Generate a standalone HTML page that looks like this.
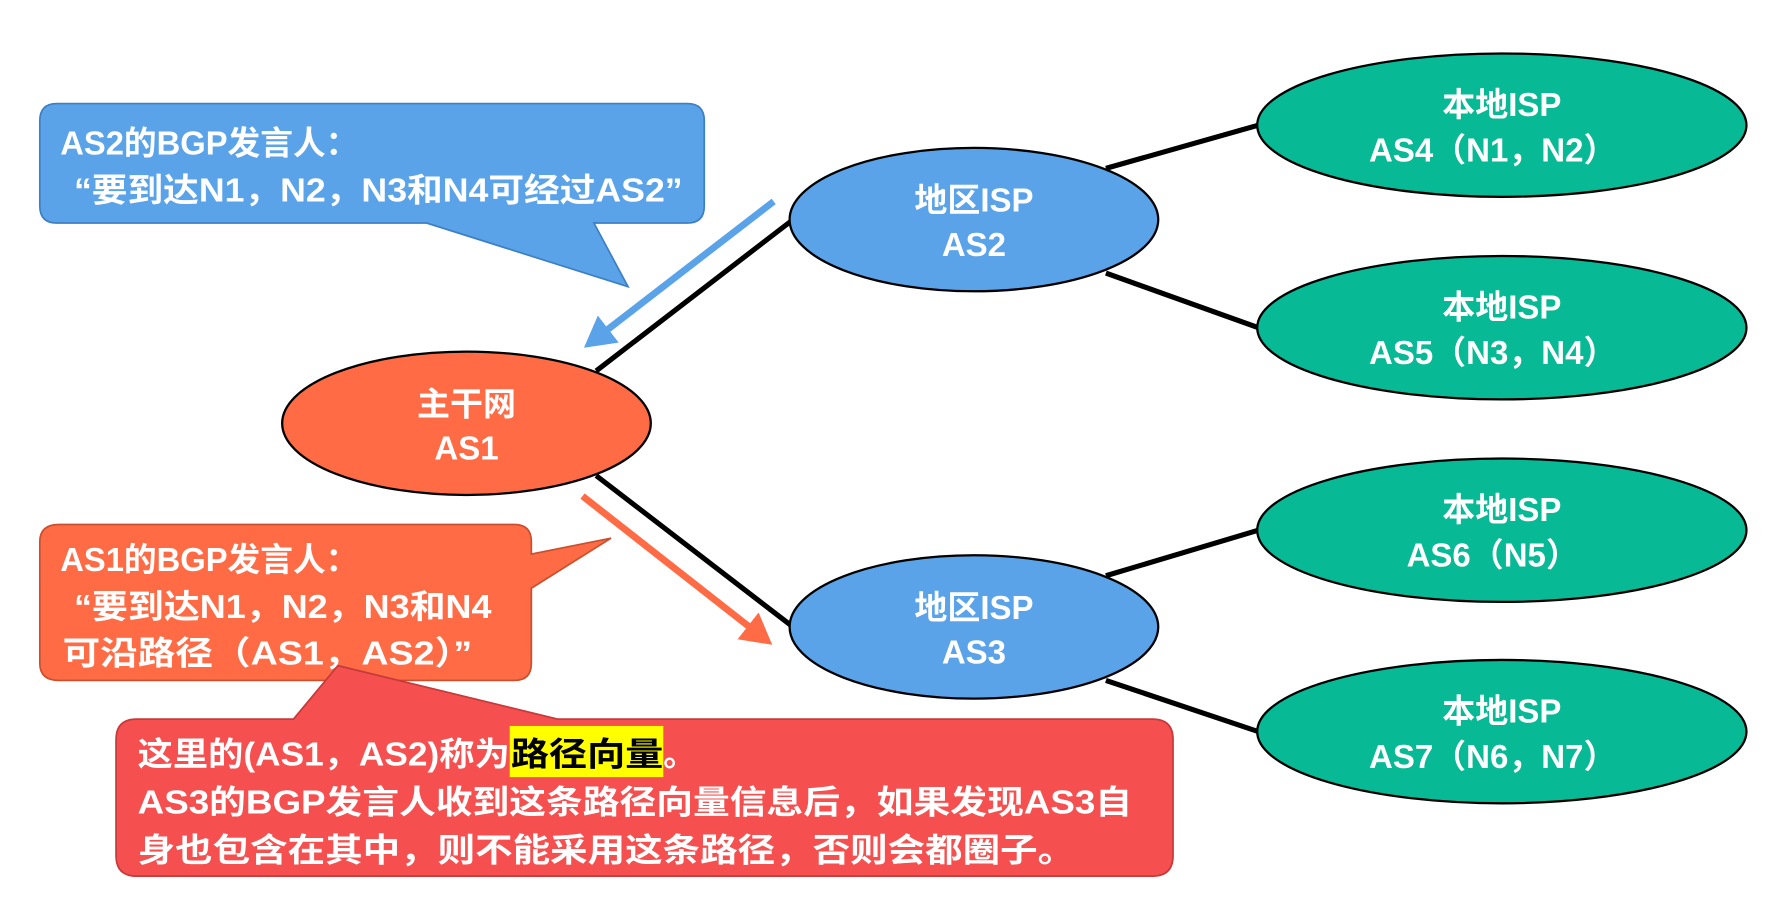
<!DOCTYPE html>
<html><head><meta charset="utf-8"><style>
html,body{margin:0;padding:0;background:#fff;}
svg{display:block;}
text{font-family:"Liberation Sans","Noto Sans CJK SC",sans-serif;font-weight:bold;fill:#fff;}
</style></head><body>
<svg width="1784" height="904" viewBox="0 0 1568 794.5" preserveAspectRatio="none" xmlns="http://www.w3.org/2000/svg">
<defs>
<marker id="ab" markerWidth="5" markerHeight="5" refX="3.5" refY="2.5" orient="auto" markerUnits="strokeWidth"><path d="M0,0 L4.5,2.5 L0,5 Z" fill="#5aa3e8"/></marker>
<marker id="ao" markerWidth="5" markerHeight="5" refX="3.5" refY="2.5" orient="auto" markerUnits="strokeWidth"><path d="M0,0 L4.5,2.5 L0,5 Z" fill="#ff6b45"/></marker>
</defs>
<g stroke="#000" stroke-width="4.5">
<line x1="524" y1="326" x2="697" y2="193"/>
<line x1="524" y1="418" x2="697" y2="551"/>
<line x1="972" y1="148" x2="1106" y2="110"/>
<line x1="972" y1="240" x2="1106" y2="288"/>
<line x1="972" y1="506" x2="1106" y2="466"/>
<line x1="972" y1="598" x2="1106" y2="643"/>
</g>
<line x1="680" y1="177" x2="518" y2="302" stroke="#5aa3e8" stroke-width="6" marker-end="url(#ab)"/>
<line x1="512" y1="436" x2="674" y2="563" stroke="#ff6b45" stroke-width="6" marker-end="url(#ao)"/>

<g stroke="#000" stroke-width="2">
<ellipse cx="410" cy="372" rx="162" ry="63" fill="#ff6b45"/>
<ellipse cx="856" cy="193" rx="162" ry="63" fill="#5aa3e8"/>
<ellipse cx="856" cy="551" rx="162" ry="63" fill="#5aa3e8"/>
<ellipse cx="1320" cy="110" rx="215" ry="63" fill="#08b995"/>
<ellipse cx="1320" cy="288" rx="215" ry="63" fill="#08b995"/>
<ellipse cx="1320" cy="466" rx="215" ry="63" fill="#08b995"/>
<ellipse cx="1320" cy="643" rx="215" ry="63" fill="#08b995"/>
</g>
<g font-size="29" text-anchor="middle">
<text x="410" y="365">主干网</text><text x="410" y="404">AS1</text>
<text x="856" y="186">地区ISP</text><text x="856" y="225">AS2</text>
<text x="856" y="544">地区ISP</text><text x="856" y="583">AS3</text>
<text x="1320" y="102">本地ISP</text><text x="1312" y="142">AS4（N1，N2）</text>
<text x="1320" y="280">本地ISP</text><text x="1312" y="320">AS5（N3，N4）</text>
<text x="1320" y="458">本地ISP</text><text x="1312" y="498">AS6（N5）</text>
<text x="1320" y="635">本地ISP</text><text x="1312" y="675">AS7（N6，N7）</text>
</g>

<path d="M50,91 H604 Q619,91 619,106 V181 Q619,196 604,196 H522 L552,252 L375,196 H50 Q35,196 35,181 V106 Q35,91 50,91 Z" fill="#5aa3e8" stroke="#3d7fc4" stroke-width="1.5"/>
<text x="53" y="136" font-size="29" textLength="262" lengthAdjust="spacingAndGlyphs">AS2的BGP发言人：</text>
<text x="65" y="177" font-size="29" textLength="535" lengthAdjust="spacingAndGlyphs">“要到达N1，N2，N3和N4可经过AS2”</text>

<path d="M52,461 H452 Q467,461 467,476 V487 L537,473 L467,517 V583 Q467,598 452,598 H52 Q35,598 35,583 V476 Q35,461 52,461 Z" fill="#ff6b45" stroke="#c9502e" stroke-width="1.5"/>
<text x="53" y="502" font-size="29" textLength="262" lengthAdjust="spacingAndGlyphs">AS1的BGP发言人：</text>
<text x="65" y="543" font-size="29" textLength="367" lengthAdjust="spacingAndGlyphs">“要到达N1，N2，N3和N4</text>
<text x="55" y="584" font-size="29" textLength="360" lengthAdjust="spacingAndGlyphs">可沿路径（AS1，AS2）”</text>

<path d="M120,632 H258 L297,585 L490,632 H1013 Q1031,632 1031,650 V752 Q1031,770 1013,770 H120 Q102,770 102,752 V650 Q102,632 120,632 Z" fill="#f64f4f" stroke="#c53a3a" stroke-width="1.5"/>
<rect x="448" y="638" width="135" height="45" fill="#ffff00"/>
<text x="121" y="673" font-size="29"><tspan textLength="327" lengthAdjust="spacingAndGlyphs">这里的(AS1，AS2)称为</tspan><tspan fill="#000" x="449" textLength="134" lengthAdjust="spacingAndGlyphs">路径向量</tspan><tspan x="583">。</tspan></text>
<text x="121" y="715" font-size="29" textLength="874" lengthAdjust="spacingAndGlyphs">AS3的BGP发言人收到这条路径向量信息后，如果发现AS3自</text>
<text x="121" y="757" font-size="29" textLength="824" lengthAdjust="spacingAndGlyphs">身也包含在其中，则不能采用这条路径，否则会都圈子。</text>
</svg>
</body></html>
